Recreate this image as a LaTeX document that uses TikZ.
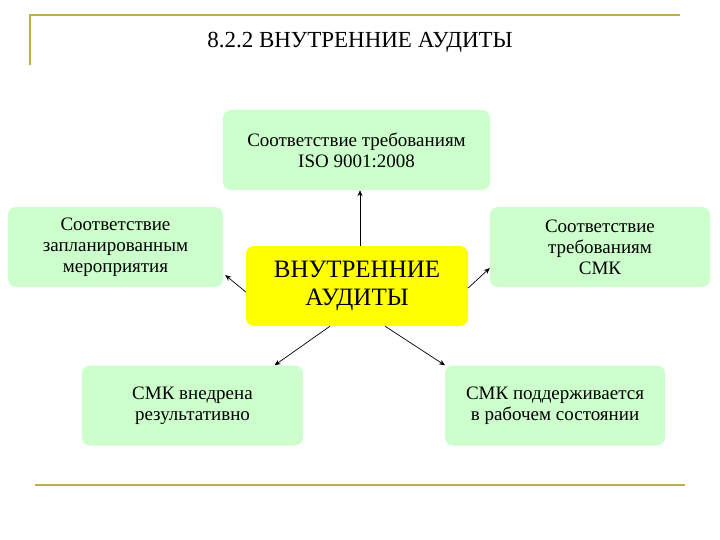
\documentclass[tikz,border=0pt]{standalone}
\usepackage{fontspec}
\setmainfont{Liberation Serif}
\usetikzlibrary{arrows.meta}
\definecolor{olive}{RGB}{190,175,70}
\definecolor{lgreen}{RGB}{204,255,204}
\definecolor{yel}{RGB}{255,255,0}
\tikzset{
 box/.style={fill=lgreen,rounded corners=8pt,minimum width=#1,minimum height=80pt,align=center,font=\fontsize{19}{21}\selectfont,inner sep=2pt},
 box/.default=220pt,
 arr/.style={-{Stealth[length=6pt,width=5pt]},line width=0.7pt}
}
\begin{document}
\begin{tikzpicture}[x=1pt,y=-1pt]
\useasboundingbox (0,0) rectangle (720,540);
\draw[olive,line width=1.5pt] (30,65) -- (30,15) -- (680,15);
\draw[olive,line width=1.5pt] (35,485) -- (685,485);
\node[font=\fontsize{23}{26}\selectfont] (title) at (360,42) {8.2.2 ВНУТРЕННИЕ АУДИТЫ};
\node[box=267pt] (top) at (356.5,150) {Соответствие требованиям\\ISO 9001:2008};
\node[box=215pt] (left) at (115.5,247) {Соответствие\\запланированным\\мероприятия};
\node[box=220pt] (right) at (600,247) {Соответствие\\требованиям\\СМК};
\node[box=221pt] (bl) at (192.5,405.5) {СМК внедрена\\результативно};
\node[box=220pt] (br) at (555,405.5) {СМК поддерживается\\в рабочем состоянии};
\node[box=222pt,fill=yel,font=\fontsize{25}{28}\selectfont] (c) at (357,286) {ВНУТРЕННИЕ\\АУДИТЫ};
\draw[arr] (c.north) ++(3,0) coordinate (c1) -- (c1 |- top.south);
\draw[arr] ([yshift=-6pt]c.west) -- ([yshift=-28pt,xshift=2pt]left.east);
\draw[arr] ([yshift=-2pt]c.east) -- ([yshift=-21pt]right.west);
\draw[arr] ([xshift=-27pt]c.south) -- ([xshift=82pt]bl.north);
\draw[arr] ([xshift=28pt]c.south) -- ([xshift=-110pt]br.north);
\end{tikzpicture}
\end{document}
